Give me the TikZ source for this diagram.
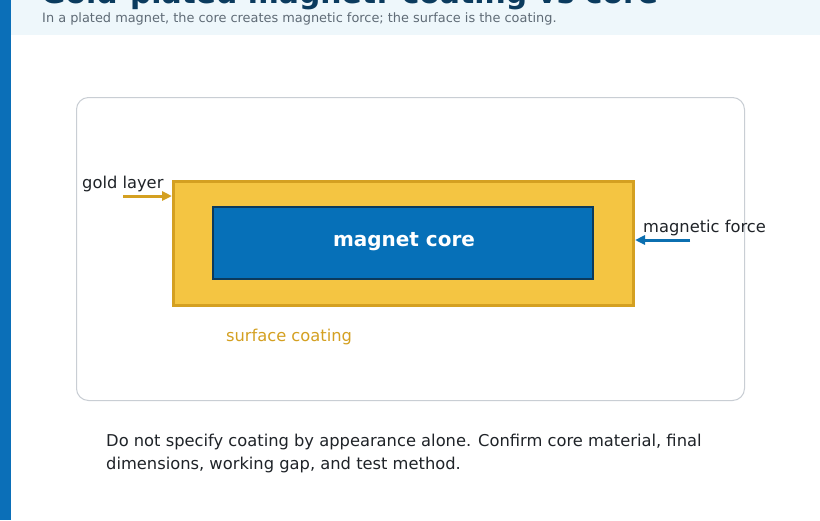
\documentclass[tikz,border=0pt]{standalone}
\usepackage{fontspec}
\setmainfont{DejaVu Sans}
\usetikzlibrary{arrows.meta,calc}
\definecolor{leftbar}{HTML}{0B6FB8}
\definecolor{headbg}{HTML}{EEF7FB}
\definecolor{titlec}{HTML}{0B3B5E}
\definecolor{subc}{HTML}{5F6B76}
\definecolor{framec}{HTML}{C9CED4}
\definecolor{goldfill}{HTML}{F4C542}
\definecolor{goldline}{HTML}{D4A021}
\definecolor{corefill}{HTML}{0670B8}
\definecolor{coreline}{HTML}{0B3A5C}
\definecolor{textc}{HTML}{1F2328}
\definecolor{forcec}{HTML}{0B6FB0}
\tikzset{
  lbl/.style={inner sep=0pt, text=textc, font=\fontsize{16.3}{19}\selectfont},
  goldbox/.style={draw=goldline, fill=goldfill, line width=3pt, inner sep=0pt, minimum width=460pt, minimum height=124pt},
  corebox/.style={draw=coreline, fill=corefill, line width=2pt, inner sep=0pt, minimum width=380pt, minimum height=72pt},
  coretext/.style={inner sep=0pt, text=white, font=\bfseries\fontsize{20}{24}\selectfont},
  goldarrow/.style={draw=goldline, line width=3pt, -{Triangle[length=10pt,width=9pt]}},
  forcearrow/.style={draw=forcec, line width=3pt, -{Triangle[length=10pt,width=9pt]}},
}
\begin{document}
\begin{tikzpicture}[x=1pt,y=-1pt]
\useasboundingbox (0,0) rectangle (820,520);
\fill[white] (0,0) rectangle (820,520);
\fill[headbg] (11,0) rectangle (820,35);
\fill[leftbar] (0,0) rectangle (11,520);
\node[anchor=base west, inner sep=0pt, text=titlec, font=\bfseries\fontsize{29.8}{34}\selectfont] (title) at (41,3) {Gold-plated magnet: coating vs core};
\node[anchor=base west, inner sep=0pt, text=subc, font=\fontsize{12.9}{15}\selectfont] (subtitle) at (42,22) {In a plated magnet, the core creates magnetic force; the surface is the coating.};
\draw[framec, line width=1pt, rounded corners=12pt] (76.5,97.5) rectangle (744.5,400.5);
\node[goldbox] (gold) at (403.5,243.5) {};
\node[corebox] (core) at (403,243) {};
\node[coretext, anchor=base] (corelbl) at (404,246) {magnet core};
\node[lbl, anchor=base west] (goldlbl) at (82,188) {gold layer};
\coordinate (ga) at (123,196);
\draw[goldarrow] (ga) -- (ga -| gold.west);
\node[lbl, anchor=base west] (forcelbl) at (643,232) {magnetic force};
\coordinate (ma) at (690,240);
\draw[forcearrow] (ma) -- (ma -| gold.east);
\node[lbl, anchor=base, text=goldline] (surf) at (289,341) {surface coating};
\node[lbl, anchor=base west] (note1) at (106,446) {Do not specify coating by appearance alone. Confirm core material, final};
\node[lbl, anchor=base west] (note2) at (106,469) {dimensions, working gap, and test method.};
\end{tikzpicture}
\end{document}
